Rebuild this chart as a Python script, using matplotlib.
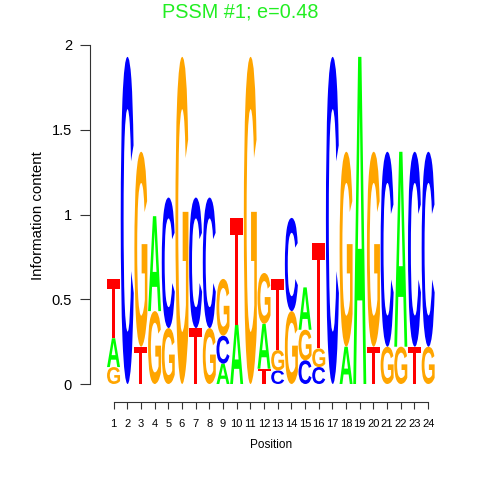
import matplotlib
matplotlib.use("Agg")
import matplotlib.pyplot as plt
from matplotlib.textpath import TextPath
from matplotlib.font_manager import FontProperties
from matplotlib.patches import PathPatch
from matplotlib.transforms import Affine2D

positions = list(range(1, 25))
letters = ["A", "C", "G", "T"]
colors = {"A": "#00FF00", "C": "#0000FF", "G": "#FFA500", "T": "#FF0000"}

# information content (bits) per letter at each position
height_A = [0.17, 0, 0, 0.56, 0, 0, 0, 0, 0.12, 0.35, 0, 0.265,
            0, 0, 0.25, 0, 0, 0.22, 1.93, 0, 0, 1.15, 0, 0]
height_C = [0, 1.93, 0, 0, 0.77, 0, 0.77, 0.77, 0.165, 0, 0, 0,
            0.08, 0.55, 0.14, 0.10, 1.93, 0, 0, 0, 1.15, 0, 1.15, 1.15]
height_G = [0.10, 0, 1.15, 0.43, 0.33, 1.93, 0, 0.33, 0.335, 0, 1.93, 0.30,
            0.12, 0.43, 0.18, 0.11, 0, 1.15, 0, 1.15, 0.22, 0.22, 0, 0.22]
height_T = [0.35, 0, 0.22, 0, 0, 0, 0.33, 0, 0, 0.63, 0, 0.09,
            0.42, 0, 0, 0.62, 0, 0, 0, 0.22, 0, 0, 0.22, 0]

yticks = [0, 0.5, 1, 1.5, 2]
ytick_labels = ["0", "0.5", "1", "1.5", "2"]
title = "PSSM #1; e=0.48"

W, H = 480, 480
fig = plt.figure(figsize=(W / 100, H / 100), dpi=100)
ax = fig.add_axes([106.7 / W, 96 / H, 328.3 / W, 339 / H])
ax.set_xlim(0.5, 24.5)
ax.set_ylim(0, 2)

fp = FontProperties(family="Liberation Sans", weight="bold")
glyphs = {}
for L in letters:
    p = TextPath((0, 0), L, size=1, prop=fp)
    ext = p.get_extents()
    glyphs[L] = (p, ext)


def draw_letter(L, xc, y0, w, h):
    p, ext = glyphs[L]
    tr = (Affine2D()
          .translate(-ext.x0, -ext.y0)
          .scale(w / ext.width, h / ext.height)
          .translate(xc - w / 2, y0))
    patch = PathPatch(tr.transform_path(p), facecolor=colors[L],
                      edgecolor="none", lw=0)
    ax.add_patch(patch)


heights = {"A": height_A, "C": height_C, "G": height_G, "T": height_T}
for i, pos in enumerate(positions):
    col = [(heights[L][i], L) for L in letters if heights[L][i] > 0]
    col.sort()
    y = 0.0
    for h, L in col:
        draw_letter(L, pos, y, 0.95, h)
        y += h

for s in ["top", "right"]:
    ax.spines[s].set_visible(False)
ax.spines["left"].set_position(("outward", 12))
ax.spines["left"].set_bounds(0, 2)
ax.spines["bottom"].set_position(("outward", 13))
ax.spines["bottom"].set_bounds(1, 24)
for s in ["left", "bottom"]:
    ax.spines[s].set_linewidth(0.8)
    ax.spines[s].set_color("#333333")

ax.set_yticks(yticks)
ax.set_yticklabels(ytick_labels)
ax.set_xticks(positions)
ax.set_xticklabels([str(p) for p in positions])
ax.tick_params(axis="y", direction="out", length=7, width=0.8, pad=6,
               labelsize=10.5, colors="#333333", labelcolor="black")
ax.tick_params(axis="x", direction="out", length=5, width=0.8, pad=7,
               labelsize=8, colors="#333333", labelcolor="black")
for lab in ax.get_yticklabels() + ax.get_xticklabels():
    lab.set_family("Liberation Sans")

fig.text(240 / W, 1 - 12 / H, title, color="#22EE22", fontsize=14.3,
         family="Liberation Sans", ha="center", va="center")
fig.text(37.5 / W, 1 - 216 / H, "Information content", rotation=90,
         fontsize=10.8, family="Liberation Sans", ha="center", va="center")
fig.text(271 / W, 1 - 445 / H, "Position", fontsize=8.5,
         family="Liberation Sans", ha="center", va="center")

fig.savefig("out.png", dpi=100)
